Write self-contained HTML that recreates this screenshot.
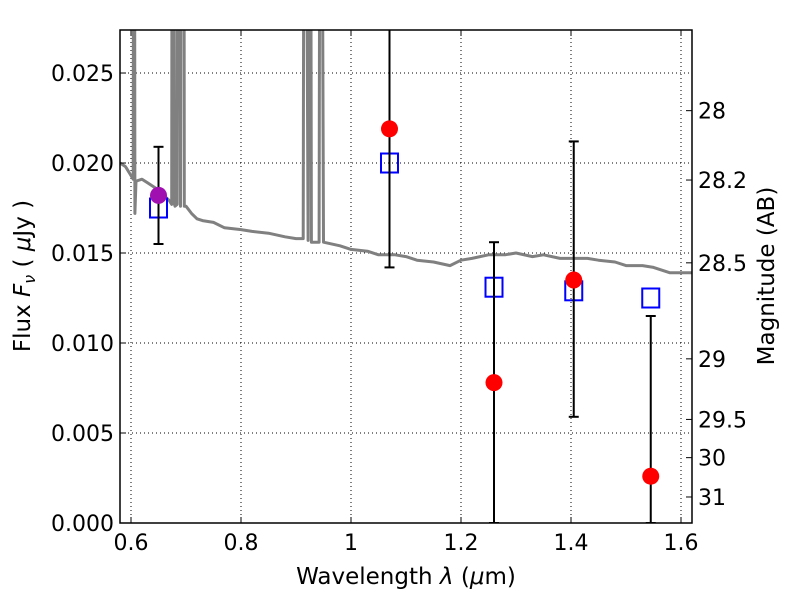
<!DOCTYPE html>
<html><head><meta charset="utf-8"><style>
body{margin:0;background:#fff;}
svg{display:block;font-family:"DejaVu Sans","Liberation Sans",sans-serif;}
</style></head><body>
<svg id="chart" width="800" height="600"></svg>
<script>
const specWave=[0.58,0.59,0.60,0.604,0.605,0.606,0.607,0.609,0.61,0.62,0.63,0.64,0.65,0.66,0.67,0.674,0.675,0.677,0.679,0.68,0.684,0.685,0.688,0.69,0.692,0.694,0.696,0.697,0.70,0.71,0.72,0.73,0.75,0.77,0.80,0.82,0.85,0.88,0.90,0.913,0.915,0.917,0.922,0.924,0.926,0.928,0.942,0.944,0.946,0.95,0.98,1.0,1.03,1.05,1.08,1.10,1.12,1.15,1.18,1.2,1.22,1.25,1.28,1.3,1.33,1.35,1.38,1.4,1.43,1.45,1.48,1.5,1.53,1.55,1.58,1.62];
const specFlux=[0.0200,0.0198,0.0193,0.0191,0.05,0.05,0.0172,0.0190,0.0190,0.0191,0.0189,0.0187,0.0185,0.0182,0.0179,0.0177,0.05,0.05,0.0177,0.0176,0.0177,0.05,0.05,0.0176,0.05,0.05,0.05,0.0176,0.0176,0.0172,0.0169,0.0168,0.0167,0.0164,0.0163,0.0162,0.0161,0.0159,0.0158,0.0158,0.05,0.05,0.0157,0.05,0.05,0.0156,0.0156,0.05,0.05,0.0156,0.0154,0.0152,0.0151,0.0149,0.0149,0.0148,0.0146,0.0145,0.0143,0.0146,0.0147,0.0149,0.0149,0.0150,0.0148,0.0149,0.0147,0.0147,0.0147,0.0146,0.0145,0.0143,0.0143,0.0142,0.0139,0.0139];
const obsWave=[0.65,1.07,1.26,1.405,1.545];
const obsFlux=[0.0182,0.0219,0.0078,0.0135,0.0026];
const obsLo=[0.0155,0.0142,0.0,0.0059,0.0];
const obsHi=[0.0209,0.030,0.0156,0.0212,0.0115];
const modelFlux=[0.0175,0.0200,0.0131,0.0129,0.0125];
const xTicks=[0.6,0.8,1.0,1.2,1.4,1.6];
const xTickLabels=["0.6","0.8","1","1.2","1.4","1.6"];
const yTicks=[0,0.005,0.010,0.015,0.020,0.025];
const yTickLabels=["0.000","0.005","0.010","0.015","0.020","0.025"];
const magTicks=[28,28.2,28.5,29,29.5,30,31];
const magTickLabels=["28","28.2","28.5","29","29.5","30","31"];

const L=120,R=692,T=30,B=523,X0=0.58,X1=1.62,Y0=0,Y1=0.02739;
const sx=v=>L+(v-X0)/(X1-X0)*(R-L);
const sy=v=>B-(v-Y0)/(Y1-Y0)*(B-T);
const svg=document.getElementById('chart');
const NS='http://www.w3.org/2000/svg';
function mk(tag,attrs,parent){const e=document.createElementNS(NS,tag);for(const k in attrs)e.setAttribute(k,attrs[k]);(parent||svg).appendChild(e);return e;}
const defs=mk('defs',{});const cp=mk('clipPath',{id:'clip'},defs);mk('rect',{x:L,y:T,width:R-L,height:B-T},cp);

xTicks.forEach(t=>{const g=mk('line',{x1:sx(t),x2:sx(t),y1:T,y2:B,stroke:'#000','stroke-width':1,'stroke-dasharray':'1,3'});

});
yTicks.forEach(t=>{const g=mk('line',{x1:L,x2:R,y1:sy(t),y2:sy(t),stroke:'#000','stroke-width':1,'stroke-dasharray':'1,3'});

});

const gp=mk('g',{'clip-path':'url(#clip)'});
const pts=specWave.map((w,i)=>sx(w).toFixed(1)+','+sy(specFlux[i]).toFixed(1)).join(' ');
const sp=mk('polyline',{points:pts,fill:'none',stroke:'#808080','stroke-width':3,'stroke-linejoin':'round'},gp);



modelFlux.forEach((f,i)=>{const r=mk('rect',{x:sx(obsWave[i])-8.5,y:sy(f)-9.5,width:17,height:19,fill:'none',stroke:'#0000ff','stroke-width':2},gp);

});

obsWave.forEach((w,i)=>{const x=sx(w);
const l=mk('line',{x1:x,x2:x,y1:sy(obsLo[i]),y2:sy(obsHi[i]),stroke:'#000','stroke-width':2},gp);


[obsLo[i],obsHi[i]].forEach(v=>{const c=mk('line',{x1:x-5,x2:x+5,y1:sy(v),y2:sy(v),stroke:'#000','stroke-width':2},gp);

});});

obsFlux.forEach((f,i)=>{const c=mk('circle',{cx:sx(obsWave[i]),cy:sy(f),r:8.5,fill:i===0?'#a010b0':'#ff0000'},gp);

});

const fr=mk('rect',{x:L,y:T,width:R-L,height:B-T,fill:'none',stroke:'#000','stroke-width':1.5});



xTicks.forEach((t,i)=>{const x=sx(t);
mk('line',{x1:x,x2:x,y1:B,y2:B-6,stroke:'#000'});mk('line',{x1:x,x2:x,y1:T,y2:T+6,stroke:'#000'});
const tx=mk('text',{x:x,y:B+27,'font-size':22,'text-anchor':'middle'});tx.textContent=xTickLabels[i];

});
yTicks.forEach((t,i)=>{const y=sy(t);
mk('line',{x1:L,x2:L+6,y1:y,y2:y,stroke:'#000'});
const tx=mk('text',{x:L-6,y:y+8,'font-size':22,'text-anchor':'end'});tx.textContent=yTickLabels[i];

});
magTicks.forEach((m,i)=>{const y=sy(Math.pow(10,(23.9-m)/2.5));
mk('line',{x1:R,x2:R-6,y1:y,y2:y,stroke:'#000'});
const tx=mk('text',{x:R+6,y:y+8,'font-size':22});tx.textContent=magTickLabels[i];

});
</script>
<div style="position:absolute;left:0;top:0;width:800px;height:600px;pointer-events:none;">
<svg width="800" height="600" style="font-family:'DejaVu Sans','Liberation Sans',sans-serif">
<text x="406" y="584" font-size="23" text-anchor="middle">Wavelength  <tspan font-style="italic">λ</tspan> (<tspan font-style="italic">μ</tspan>m)</text>
<text transform="translate(30,276) rotate(-90)" font-size="23" text-anchor="middle">Flux  <tspan font-style="italic">F</tspan><tspan font-style="italic" font-size="16" dy="5">ν</tspan><tspan dy="-5">  ( </tspan><tspan font-style="italic">μ</tspan>Jy )</text>
<text transform="translate(774,276) rotate(-90)" font-size="23" text-anchor="middle">Magnitude (AB)</text>
</svg></div>
</body></html>
